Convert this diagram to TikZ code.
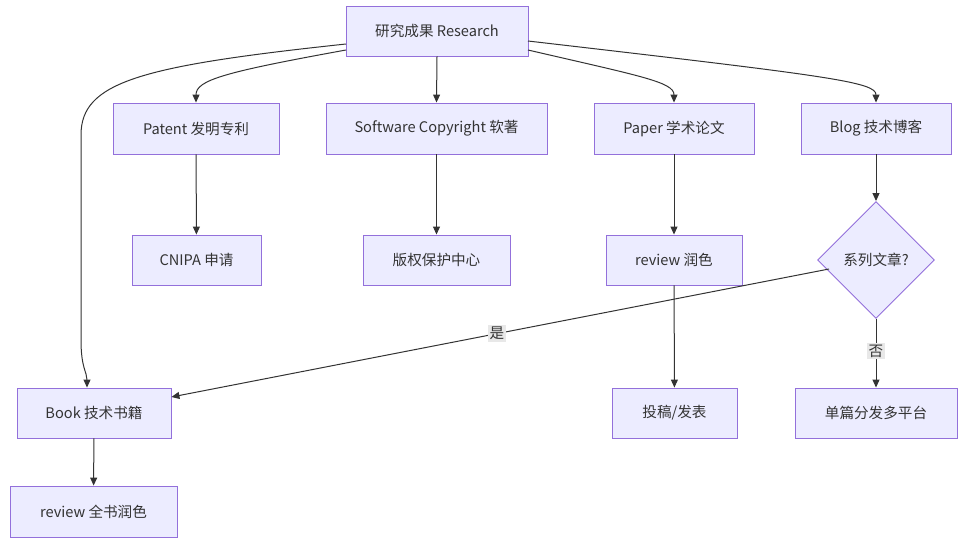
\documentclass[tikz,border=0pt]{standalone}
\usepackage{fontspec}
\setmainfont{Noto Sans CJK SC}
\usetikzlibrary{arrows.meta,shapes.geometric}
\definecolor{nodefill}{HTML}{ECECFF}
\definecolor{nodeline}{HTML}{9370DB}
\definecolor{txt}{HTML}{333333}
\definecolor{lbl}{HTML}{E8E8E8}
\tikzset{
  box/.style={draw=nodeline, fill=nodefill, line width=0.9pt, text=txt, font=\fontsize{14.6}{16}\selectfont, inner sep=0pt, anchor=center},
  dia/.style={draw=nodeline, fill=nodefill, line width=0.9pt, text=txt, font=\fontsize{14.6}{16}\selectfont, diamond, aspect=1, inner sep=0pt, minimum width=117pt, minimum height=117pt},
  link/.style={draw=txt, line width=1pt, -{Triangle[length=8pt,width=7pt]}},
  elabel/.style={fill=lbl, text=txt, font=\fontsize{14.6}{16}\selectfont, inner sep=2pt}
}
\begin{document}
\begin{tikzpicture}[x=1pt,y=-1pt]
\useasboundingbox (0,0) rectangle (963,541);
\node[box, minimum width=182pt, minimum height=50pt] (res) at (437,31) {研究成果 Research};
\node[box, minimum width=166pt, minimum height=51pt] (pat) at (196,128.5) {Patent 发明专利};
\node[box, minimum width=221pt, minimum height=51pt] (sw) at (436.5,128.5) {Software Copyright 软著};
\node[box, minimum width=160pt, minimum height=51pt] (pap) at (674,128.5) {Paper 学术论文};
\node[box, minimum width=150pt, minimum height=51pt] (blog) at (876,128.5) {Blog 技术博客};
\node[box, minimum width=129pt, minimum height=50pt] (cn) at (196.5,260) {CNIPA 申请};
\node[box, minimum width=147pt, minimum height=50pt] (bq) at (436.5,260) {版权保护中心};
\node[box, minimum width=136pt, minimum height=50pt] (rv) at (674,260) {review 润色};
\node[dia] (ser) at (876,260) {系列文章?};
\node[box, minimum width=154pt, minimum height=50pt] (book) at (94,413) {Book 技术书籍};
\node[box, minimum width=125pt, minimum height=50pt] (pub) at (674.5,413) {投稿/发表};
\node[box, minimum width=162pt, minimum height=50pt] (single) at (876,413) {单篇分发多平台};
\node[box, minimum width=167pt, minimum height=51pt] (brv) at (93.5,511.5) {review 全书润色};
\coordinate (resL1) at (346,44);
\coordinate (resL2) at (346,50);
\coordinate (resR1) at (528,41);
\coordinate (resR2) at (528,50);
\coordinate (serL) at (829,269);
\draw[link] (resL1) .. controls (140,66) and (81,82) .. (81,135) -- (81,340) .. controls (81,368) and (87,372) .. (book.north -| 87,0);
\draw[link] (resL2) .. controls (225,72) and (196,80) .. (pat.north);
\draw[link] (res.south) -- (sw.north);
\draw[link] (resR2) .. controls (640,76) and (674,82) .. (pap.north);
\draw[link] (resR1) .. controls (830,76) and (876,82) .. (blog.north);
\draw[link] (pat) -- (cn);
\draw[link] (sw) -- (bq);
\draw[link] (pap) -- (rv);
\draw[link] (blog) -- (ser.north);
\draw[link] (rv) -- (pub);
\draw[link] (book) -- (brv);
\draw[link] (ser.south) -- node[elabel, pos=0.47] {否} (single.north);
\draw[link] (serL) -- node[elabel, pos=0.505] {是} (book.north east |- 0,397);
\end{tikzpicture}
\end{document}
